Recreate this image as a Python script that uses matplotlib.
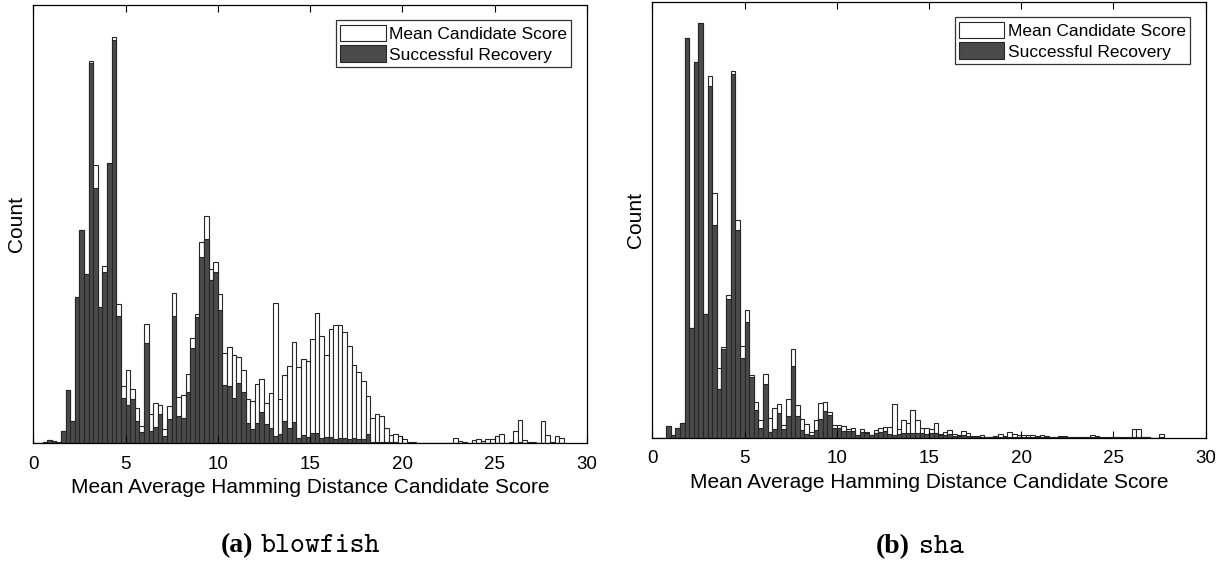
import numpy as np
import matplotlib
matplotlib.use("Agg")
import matplotlib.pyplot as plt

# histogram counts per 0.25-wide bin, starting at 0
bin_width = 0.25

blowfish_mean = [1, 1, 2, 8, 5, 3, 37, 158, 65, 437, 640, 507, 1148, 835, 408, 533,
                 842, 1220, 417, 170, 218, 162, 106, 52, 357, 87, 119, 113, 42, 112,
                 450, 137, 144, 207, 315, 388, 603, 683, 524, 543, 447, 271, 288, 264,
                 258, 218, 131, 127, 177, 193, 119, 150, 420, 131, 204, 232, 302, 227,
                 253, 245, 312, 389, 322, 264, 342, 354, 354, 333, 291, 235, 213, 186,
                 142, 74, 86, 81, 44, 23, 26, 20, 11, 4, 3, 1, 1, 1, 1, 1, 1, 1, 1,
                 16, 6, 4, 1, 9, 12, 5, 13, 12, 21, 26, 1, 3, 37, 68, 8, 4, 4, 1,
                 66, 23, 3, 20, 14]
blowfish_success = [1, 1, 2, 8, 5, 3, 37, 158, 65, 437, 640, 507, 1142, 767, 408, 515,
                    842, 1210, 382, 135, 113, 133, 65, 33, 300, 35, 49, 87, 22, 73,
                    382, 81, 75, 154, 286, 379, 560, 614, 490, 513, 400, 175, 172, 136,
                    180, 152, 59, 41, 59, 94, 56, 46, 21, 28, 67, 44, 62, 15,
                    24, 18, 31, 31, 16, 18, 18, 11, 15, 16, 13, 16, 13, 12,
                    27, 4, 2, 2, 2, 2, 2, 1, 1, 0, 0, 0, 0, 0, 0, 0, 0, 0, 0,
                    1, 1, 0, 0, 1, 1, 0, 1, 1, 1, 1, 0, 0, 1, 2, 1, 0, 0, 0,
                    1, 1, 0, 1, 0]

sha_mean = [0, 0, 0, 36, 8, 30, 45, 1198, 330, 1128, 1243, 371, 1085, 735, 208, 273,
            427, 1101, 652, 276, 384, 189, 106, 54, 192, 59, 90, 101, 37, 115,
            266, 99, 57, 41, 17, 53, 105, 106, 78, 37, 38, 35, 27, 30, 8, 25,
            17, 7, 23, 30, 31, 31, 101, 25, 53, 45, 82, 53, 30, 28, 26, 45,
            12, 18, 22, 11, 9, 20, 13, 5, 4, 9, 3, 3, 5, 11, 5, 17, 11, 7,
            7, 9, 9, 5, 9, 5, 3, 3, 5, 5, 3, 2, 2, 2, 2, 7, 6, 1, 1, 1,
            2, 1, 1, 1, 25, 25, 3, 3, 0, 0, 10]
sha_success = [0, 0, 0, 36, 8, 30, 45, 1198, 330, 1128, 1243, 371, 1055, 637, 145, 265,
               417, 1091, 623, 238, 347, 183, 82, 28, 160, 18, 25, 75, 25, 64,
               215, 64, 22, 11, 7, 23, 55, 81, 68, 28, 28, 21, 20, 20, 8, 16,
               13, 7, 13, 18, 20, 11, 8, 11, 13, 15, 15, 14, 13, 11, 13, 13,
               8, 8, 10, 5, 4, 7, 4, 3, 2, 3, 2, 2, 2, 3, 2, 3, 3, 2,
               2, 2, 2, 1, 1, 1, 1, 1, 1, 1, 1, 1, 1, 1, 1, 1, 1, 0, 0, 0,
               1, 0, 0, 0, 2, 2, 1, 1, 0, 0, 1]

xticks = [0, 5, 10, 15, 20, 25, 30]
xlabel = "Mean Average Hamming Distance Candidate Score"
legend_labels = ["Mean Candidate Score", "Successful Recovery"]

plt.rcParams['font.family'] = ['Liberation Sans', 'DejaVu Sans']

fig = plt.figure(figsize=(12.28, 5.63), dpi=100)
ax1 = fig.add_axes([0.0271, 0.2131, 0.4509, 0.7785])
ax2 = fig.add_axes([0.5312, 0.2226, 0.4505, 0.7744])

dark = '#4a4a4a'
edge = '#262626'


def draw(ax, mean, success, ytop):
    edges = np.arange(len(mean)) * bin_width
    ax.bar(edges, mean, width=bin_width, align='edge', color='white',
           edgecolor=edge, linewidth=0.8, label=legend_labels[0])
    edges = np.arange(len(success)) * bin_width
    ax.bar(edges, success, width=bin_width, align='edge', color=dark,
           edgecolor=edge, linewidth=0.8, label=legend_labels[1])
    ax.set_xlim(0, 30)
    ax.set_ylim(0, ytop)
    ax.set_xticks(xticks)
    ax.set_yticks([])
    ax.tick_params(axis='x', direction='in', top=True, length=5, width=0.8,
                   labelsize=13.5, pad=9)
    ax.set_xlabel(xlabel, fontsize=15, labelpad=4)
    ax.set_ylabel("Count", fontsize=15, labelpad=5)
    for s in ax.spines.values():
        s.set_linewidth(0.9)
    leg = ax.legend(loc='upper right', fontsize=12.5, frameon=True, fancybox=False,
                    borderpad=0.25, labelspacing=0.2, handlelength=2.6,
                    handleheight=1.1, handletextpad=0.2, borderaxespad=0.9)
    leg.get_frame().set_edgecolor('black')
    leg.get_frame().set_linewidth(0.9)


draw(ax1, blowfish_mean, blowfish_success, 1316)
draw(ax2, sha_mean, sha_success, 1308)

# sub-captions
fig.text(253 / 1228, 0.020, "(a)", fontsize=20, fontweight='bold',
         family='Liberation Serif', ha='right', va='baseline')
fig.text(261 / 1228, 0.020, "blowfish", fontsize=20.5, family='cmtt10',
         ha='left', va='baseline')
fig.text(910 / 1228, 0.018, "(b)", fontsize=20, fontweight='bold',
         family='Liberation Serif', ha='right', va='baseline')
fig.text(919 / 1228, 0.018, "sha", fontsize=20.5, family='cmtt10',
         ha='left', va='baseline')

fig.savefig("out.png", dpi=100)
